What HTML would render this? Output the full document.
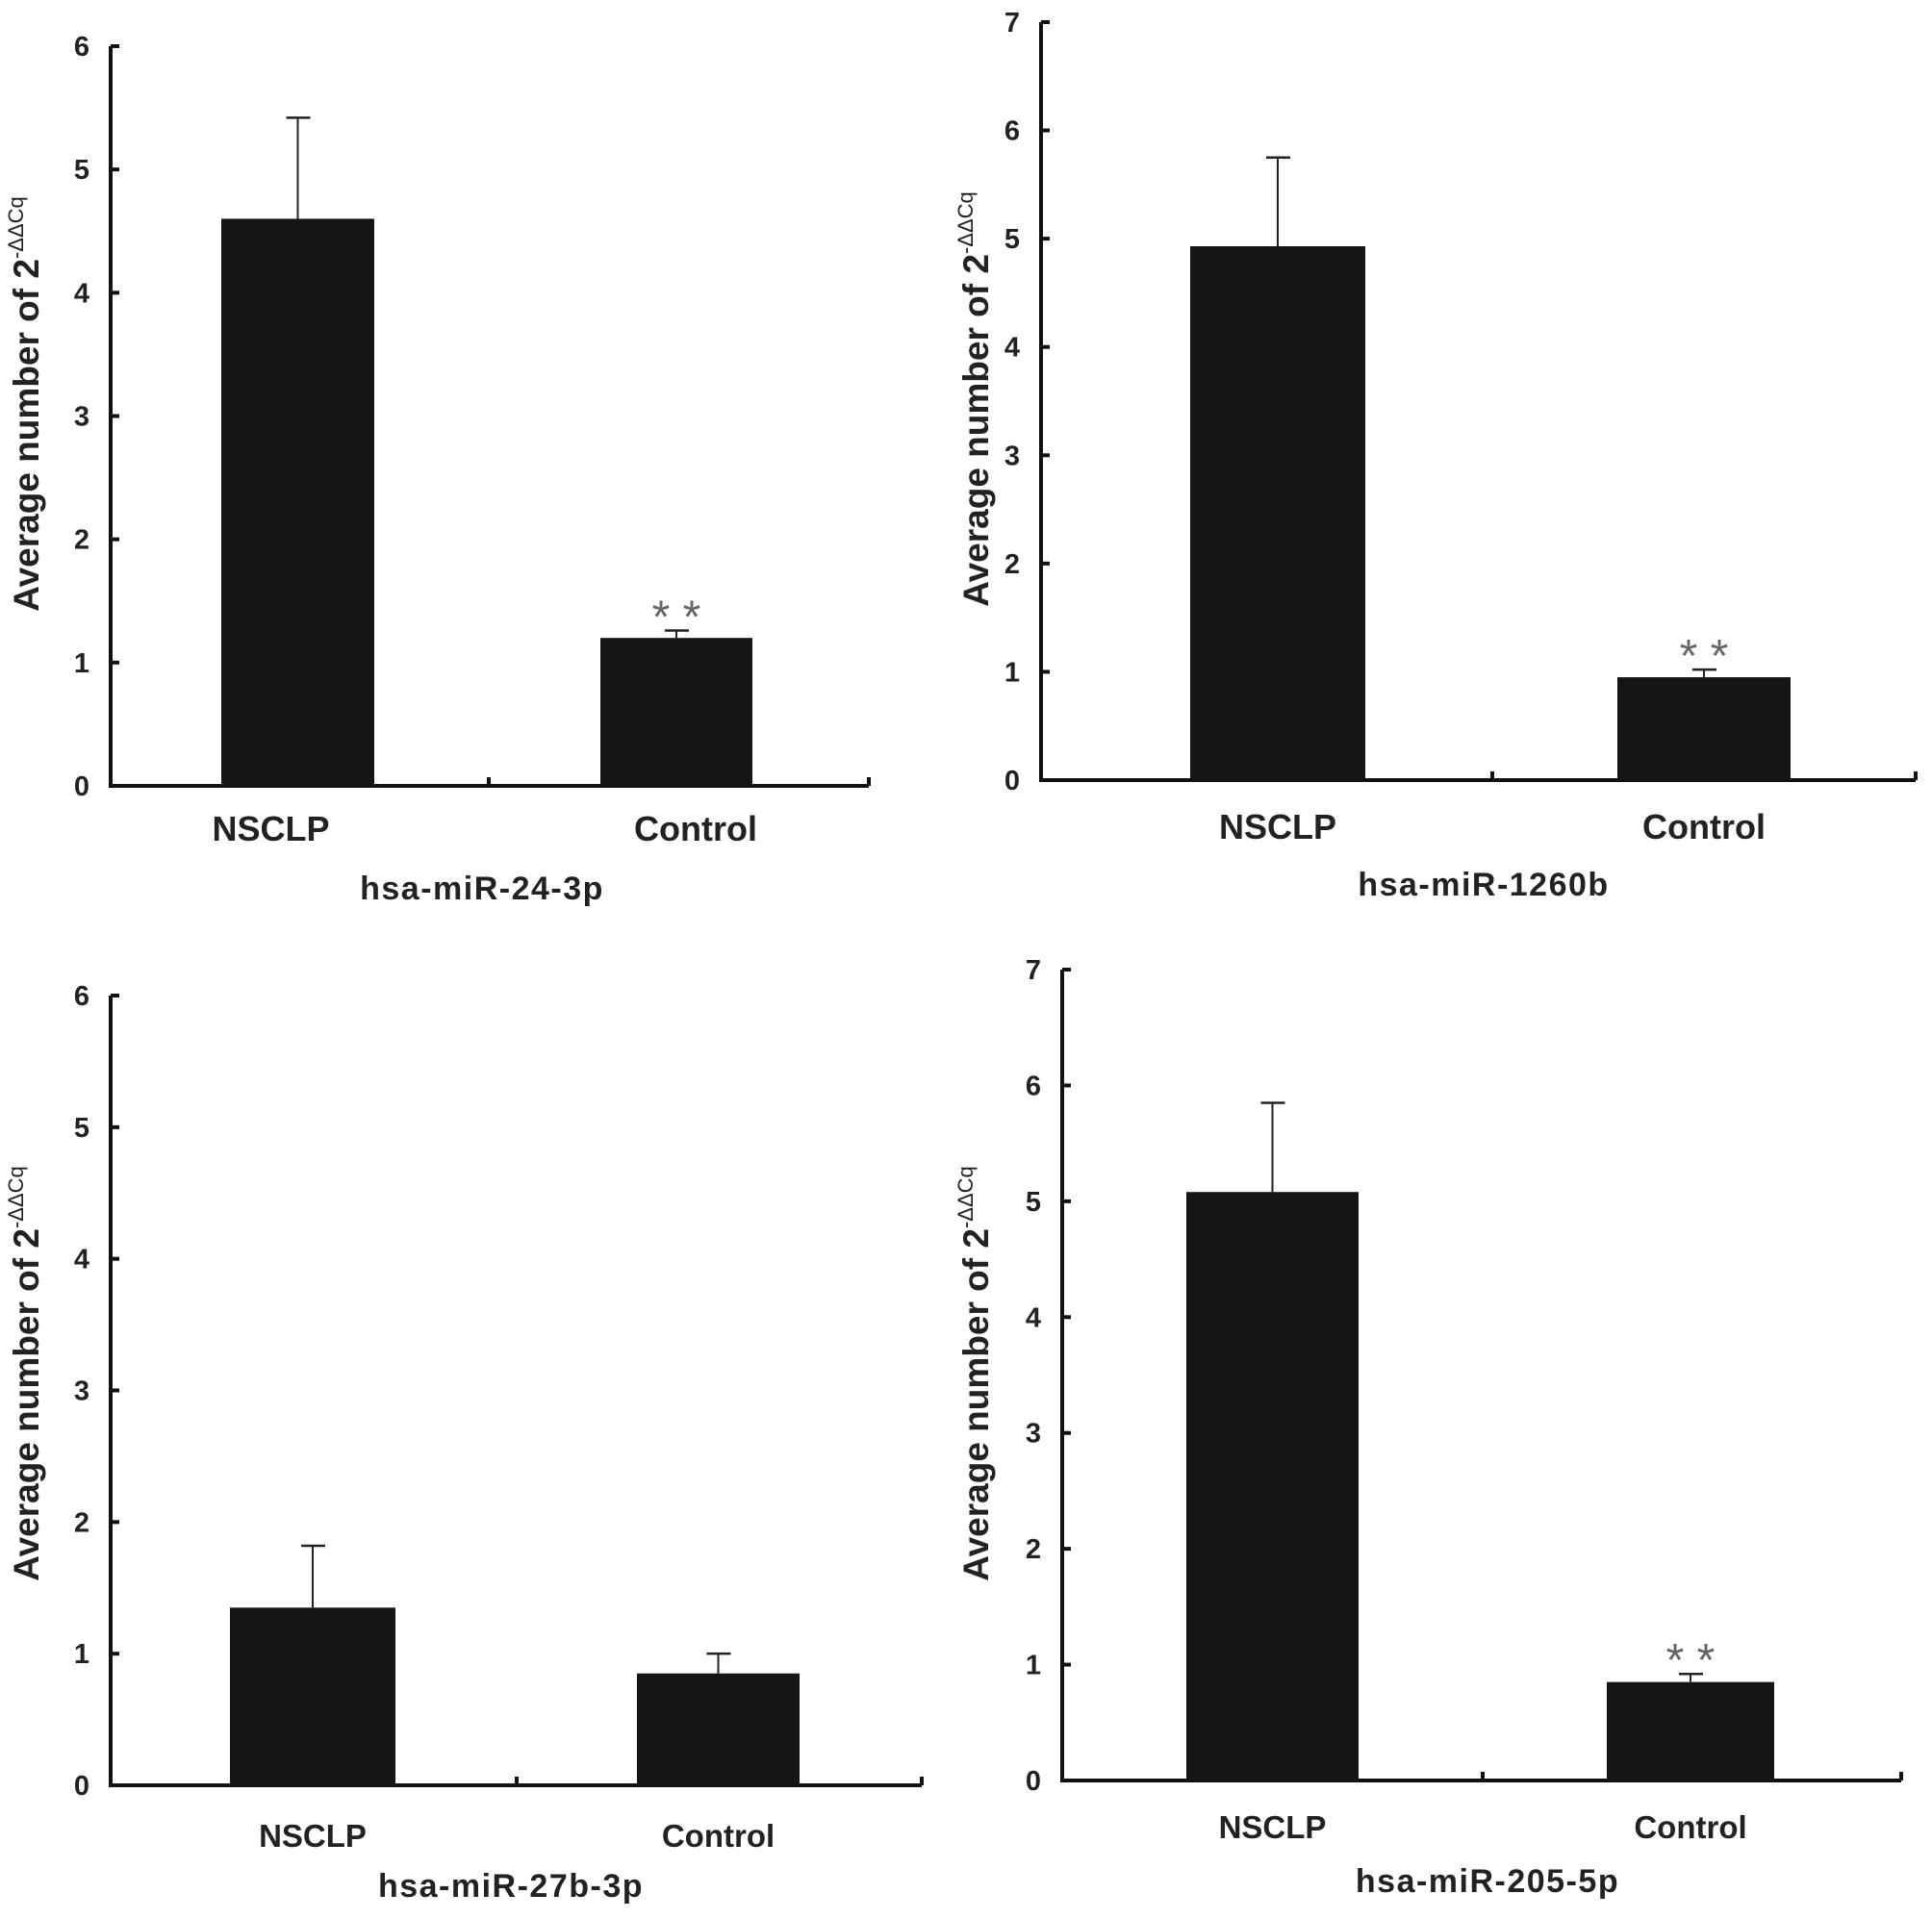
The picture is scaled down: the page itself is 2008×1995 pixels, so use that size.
<!DOCTYPE html>
<html><head><meta charset="utf-8"><style>
html,body{margin:0;padding:0;background:#fff;}
svg{display:block;font-family:"Liberation Sans",Arial,sans-serif;}
</style></head><body>
<svg id="fig" width="2008" height="1995" viewBox="0 0 2008 1995"></svg>
<script>
const categories = ["NSCLP", "Control"];
const titles = ["hsa-miR-24-3p", "hsa-miR-1260b", "hsa-miR-27b-3p", "hsa-miR-205-5p"];
const means = [[4.6, 1.2], [4.93, 0.95], [1.35, 0.85], [5.08, 0.85]];
const errs = [[0.82, 0.06], [0.82, 0.07], [0.47, 0.15], [0.77, 0.07]];
const yMaxes = [6, 7, 6, 7];
const sig = [[false, true], [false, true], [false, false], [false, true]];

const layouts = [
  {ax:115, y0:817, yTop:48, right:903, mid:508, bars:[[230,389],[624,782]], catY:874, titleY:935, titleX:501, ytX:40, ytY:420, catOff:[-28,20], catFs:36},
  {ax:1082, y0:811, yTop:23, right:1991, mid:1551, bars:[[1237,1419],[1681,1861]], catY:872, titleY:931, titleX:1542, ytX:1027, ytY:415, catOff:[0,0], catFs:36},
  {ax:115, y0:1856, yTop:1035, right:958, mid:537, bars:[[239,411],[662,831]], catY:1920, titleY:1972, titleX:531, ytX:40, ytY:1428, catOff:[0,0], catFs:33},
  {ax:1104, y0:1851, yTop:1008, right:1976, mid:1541, bars:[[1233,1412],[1670,1844]], catY:1911, titleY:1967, titleX:1546, ytX:1027, ytY:1428, catOff:[0,0], catFs:33}
];
const NS = "http://www.w3.org/2000/svg";
const svg = document.getElementById("fig");
function mk(tag, attrs, parent){
  const e = document.createElementNS(NS, tag);
  for (const k in attrs) e.setAttribute(k, attrs[k]);
  (parent||svg).appendChild(e);
  return e;
}
layouts.forEach((L, p) => {
  const g = mk("g", {});
  
  
  const yScale = v => L.y0 - (L.y0 - L.yTop) * v / yMaxes[p];
  const ya = mk("line", {x1:L.ax, y1:L.yTop, x2:L.ax, y2:L.y0+2, stroke:"#111", "stroke-width":4}, g);
  
  
  const xa = mk("line", {x1:L.ax-2, y1:L.y0, x2:L.right, y2:L.y0, stroke:"#111", "stroke-width":4}, g);
  
  
  mk("line", {x1:L.mid, y1:L.y0, x2:L.mid, y2:L.y0-9, stroke:"#111", "stroke-width":4}, g);
  mk("line", {x1:L.right, y1:L.y0, x2:L.right, y2:L.y0-9, stroke:"#111", "stroke-width":4}, g);
  for (let t = 0; t <= yMaxes[p]; t++) {
    const y = yScale(t);
    mk("line", {x1:L.ax, y1:y, x2:L.ax+9, y2:y, stroke:"#111", "stroke-width":4}, g);
    const tx = mk("text", {x:L.ax-22, y:y+10, "text-anchor":"end", "font-size":29, "font-weight":"bold", fill:"#222"}, g);
    tx.textContent = t;
    
    
  }
  categories.forEach((c, i) => {
    const [x1, x2] = L.bars[i];
    const cx = (x1 + x2) / 2;
    const top = yScale(means[p][i]);
    const eTop = yScale(means[p][i] + errs[p][i]);
    const eb = mk("line", {x1:cx, y1:top, x2:cx, y2:eTop, stroke:"#222", "stroke-width":2}, g);
    
    
    mk("line", {x1:cx-12, y1:eTop, x2:cx+13, y2:eTop, stroke:"#222", "stroke-width":2.5}, g);
    const r = mk("rect", {x:x1, y:top, width:x2-x1, height:L.y0-top, fill:"#151515"}, g);
    
    
    if (sig[p][i]) {
      const s = mk("text", {x:cx, y:eTop+2, "text-anchor":"middle", "font-size":48, fill:"#666"}, g);
      s.textContent = "* *";
      
      
    }
    const cl = mk("text", {x:cx + L.catOff[i], y:L.catY, "text-anchor":"middle", "font-size":L.catFs, "font-weight":"bold", fill:"#222"}, g);
    cl.textContent = c;
    
    
  });
  const tt = mk("text", {x:L.titleX, y:L.titleY, "text-anchor":"middle", "font-size":34, "font-weight":"bold", "letter-spacing":"1.5", fill:"#222"}, g);
  tt.textContent = titles[p];
  
  
  const yt = mk("text", {x:0, y:0, "text-anchor":"middle", "font-size":37, "font-weight":"bold", fill:"#222", transform:`translate(${L.ytX},${L.ytY}) rotate(-90)`}, g);
  
  
  yt.textContent = "Average number of 2";
  const sup = mk("tspan", {"font-size":22, "font-weight":"normal", dy:-16}, yt);
  sup.textContent = "-ΔΔCq";
});
</script>
</body></html>
